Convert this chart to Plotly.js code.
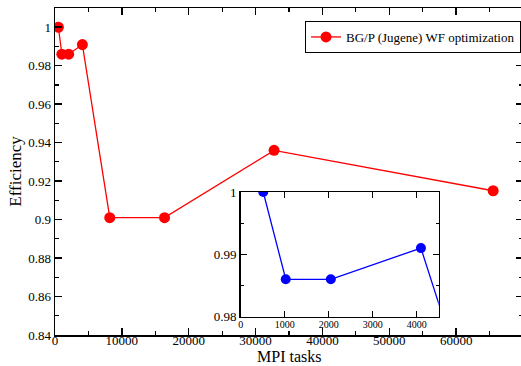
<!DOCTYPE html>
<html>
<head>
<meta charset="utf-8">
<script src="https://cdn.plot.ly/plotly-3.0.1.min.js"></script>
<style>
html,body{margin:0;padding:0;overflow:hidden;background:#fff;}
#chart{width:523px;height:366px;}
</style>
</head>
<body>
<div id="chart"></div>
<script>
// Data
const mpiTasks = [512, 1024, 2048, 4096, 8192, 16384, 32768, 65536];
const efficiency = [1.0, 0.986, 0.986, 0.991, 0.901, 0.901, 0.936, 0.915];
const seriesName = 'BG/P (Jugene) WF optimization';
const xTitle = 'MPI tasks';
const yTitle = 'Efficiency';

const serif = 'Liberation Serif, Times New Roman, serif';

const traces = [
  {
    x: mpiTasks, y: efficiency, name: seriesName,
    type: 'scatter', mode: 'lines+markers',
    line: {color: '#ff0000', width: 1.3},
    marker: {color: '#ff0000', size: 11},
    xaxis: 'x', yaxis: 'y'
  },
  {
    x: mpiTasks, y: efficiency, showlegend: false,
    type: 'scatter', mode: 'lines+markers',
    line: {color: '#0000ff', width: 1.3},
    marker: {color: '#0000ff', size: 10},
    xaxis: 'x2', yaxis: 'y2'
  }
];

const axisCommon = {
  showline: true, linecolor: '#000', linewidth: 1.5, mirror: 'ticks',
  ticks: 'inside', tickcolor: '#000', tickwidth: 1.5,
  showgrid: false, zeroline: false, fixedrange: true
};

const layout = {
  width: 523, height: 366,
  margin: {l: 55, r: 0, t: 8, b: 31},
  paper_bgcolor: '#fff', plot_bgcolor: '#fff',
  font: {family: serif, color: '#000', size: 13},
  showlegend: true,
  legend: {
    xref: 'paper', yref: 'paper',
    x: (305 - 55) / 468, y: (335 - 21) / 327,
    yanchor: 'top', xanchor: 'left',
    bgcolor: '#fff', bordercolor: '#000', borderwidth: 1,
    font: {family: serif, size: 13, color: '#000'}
  },
  xaxis: Object.assign({}, axisCommon, {
    domain: [0, 1], range: [0, 70000], dtick: 10000, tick0: 0,
    tickformat: 'd', ticklen: 7, ticklabelstandoff: -7,
    tickfont: {family: serif, size: 13},
    minor: {dtick: 5000, ticks: 'inside', ticklen: 4, tickcolor: '#000', tickwidth: 1.2},
    anchor: 'y'
  }),
  yaxis: Object.assign({}, axisCommon, {
    domain: [0, 1], range: [0.84, 1.01], dtick: 0.02, tick0: 0.84,
    ticklen: 7,
    tickfont: {family: serif, size: 13},
    minor: {dtick: 0.01, ticks: 'inside', ticklen: 4, tickcolor: '#000', tickwidth: 1.2},
    title: {text: yTitle, font: {family: serif, size: 17}, standoff: 2},
    anchor: 'x'
  }),
  xaxis2: Object.assign({}, axisCommon, {
    domain: [0.3968, 0.8199], range: [0, 4500], dtick: 1000, tick0: 0,
    tickformat: 'd', ticklen: 6, ticklabelstandoff: -2,
    tickfont: {family: serif, size: 10},
    anchor: 'y2'
  }),
  yaxis2: Object.assign({}, axisCommon, {
    domain: [0.056, 0.4373], range: [0.98, 1.0], dtick: 0.01, tick0: 0.98,
    ticklen: 6,
    tickfont: {family: serif, size: 13},
    minor: {dtick: 0.005, ticks: 'inside', ticklen: 3, tickcolor: '#000', tickwidth: 1.2},
    anchor: 'x2'
  }),
  annotations: [{
    text: xTitle, xref: 'paper', yref: 'paper',
    x: 0.5, y: (335 - 356) / 327, xanchor: 'center', yanchor: 'middle',
    showarrow: false, borderpad: 0,
    font: {family: serif, size: 16, color: '#000'}
  }]
};

Plotly.newPlot('chart', traces, layout, {staticPlot: true, displayModeBar: false});
</script>
</body>
</html>
